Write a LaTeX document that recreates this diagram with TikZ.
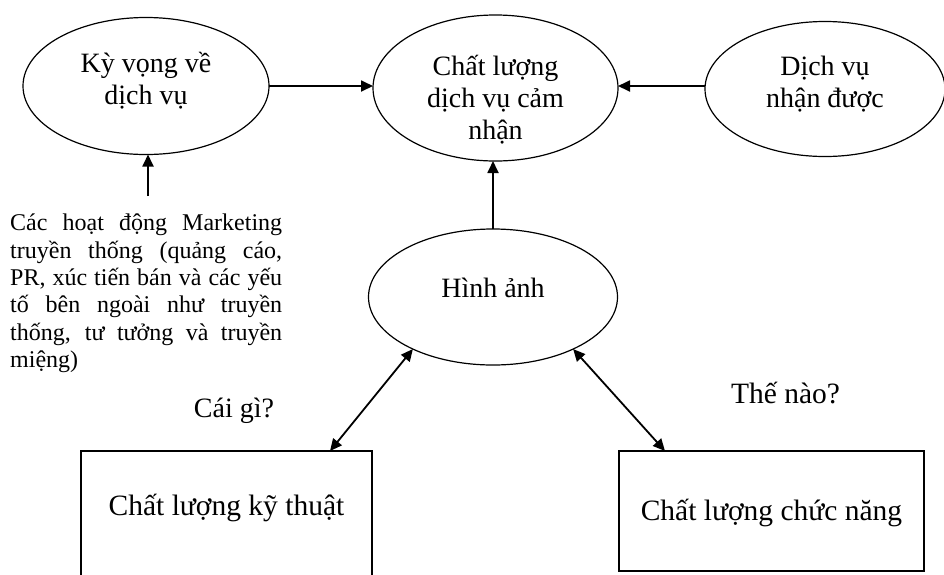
\documentclass[tikz,border=0pt]{standalone}
\usepackage{fontspec}
\setmainfont{Liberation Serif}
\usetikzlibrary{shapes.geometric,arrows.meta}

\tikzset{
  oval/.style={ellipse, draw, line width=1.2pt, inner sep=0pt, outer sep=0pt},
  ovaltext/.style={inner sep=0pt, align=center, font=\fontsize{28}{32}\selectfont},
  qbox/.style={rectangle, draw, line width=1.2pt, inner sep=0pt, outer sep=0pt,
    minimum width=#1},
  lbl/.style={inner sep=0pt, font=\fontsize{28}{32}\selectfont},
  boxlbl/.style={inner sep=0pt, font=\fontsize{29.5}{33}\selectfont},
  note/.style={inner sep=0pt, text width=272pt, align=left,
    font=\fontsize{24}{27.3}\selectfont},
  link/.style={line width=1.8pt, -{Triangle[length=12pt,width=11pt]}},
  both/.style={line width=1.8pt, {Triangle[length=12pt,width=11pt]}-{Triangle[length=12pt,width=11pt]}},
}
% one justified line of the note: word spaces stretch to fill the width
\newcommand{\jline}[1]{\leavevmode{\spaceskip=\fontdimen2\font plus 1fil\relax\hbox to 272pt{#1}}}

\begin{document}
\begin{tikzpicture}[x=1pt, y=-1pt]
  \useasboundingbox (0,0) rectangle (944,574);
  \clip (0,0) rectangle (944,574);

  % upper row of ovals
  \node[oval, minimum width=246pt, minimum height=137pt] (ky) at (146,86) {};
  \node[oval, minimum width=245pt, minimum height=146pt] (cl) at (495.5,88) {};
  \node[oval, minimum width=240pt, minimum height=135pt] (dv) at (825,89) {};
  \node[ovaltext] (kyt) at ([yshift=5pt]ky.center) {Kỳ vọng về\\dịch vụ};
  \node[ovaltext] (clt) at ([yshift=-12pt]cl.center) {Chất lượng\\dịch vụ cảm\\nhận};
  \node[ovaltext] (dvt) at ([yshift=5pt]dv.center) {Dịch vụ\\nhận được};

  % image oval
  \node[oval, minimum width=249pt, minimum height=136pt] (hinh) at (493,297) {};
  \node[ovaltext] (hinht) at ([yshift=9pt]hinh.center) {Hình ảnh};

  % marketing note
  \node[note, anchor=north west] (mk) at (10,214) {%
    \jline{Các hoạt động Marketing}\\
    \jline{truyền thống (quảng cáo,}\\
    \jline{PR, xúc tiến bán và các yếu}\\
    \jline{tố bên ngoài như truyền}\\
    \jline{thống, tư tưởng và truyền}\\
    miệng)};
  \coordinate (mktop) at (148,196);

  % quality boxes
  \node[qbox=291pt, minimum height=150pt, anchor=north] (b1) at (226.5,451) {};
  \node[qbox=305pt, minimum height=120pt, anchor=north] (b2) at (771.5,451) {};
  \node[boxlbl, anchor=base] (t1) at (226.5,515) {Chất lượng kỹ thuật};
  \node[boxlbl, anchor=base] (t2) at (771.5,520) {Chất lượng chức năng};

  % questions
  \node[lbl, anchor=base] (q1) at (234,417) {Cái gì?};
  \node[boxlbl, anchor=base] (q2) at (785.5,403) {Thế nào?};

  % connectors
  \draw[link] (ky.east) -- (ky.east -| cl.west);
  \draw[link] (ky.east -| dv.west) -- (ky.east -| cl.east);
  \draw[link] (mktop) -- (mktop |- ky.south);
  \draw[link] (hinh.north) -- (hinh.north |- cl.south);
  \draw[both] (hinh.213.5) -- ([xshift=249pt]b1.north west);
  \draw[both] (hinh.327.8) -- ([xshift=46pt]b2.north west);
\end{tikzpicture}
\end{document}
